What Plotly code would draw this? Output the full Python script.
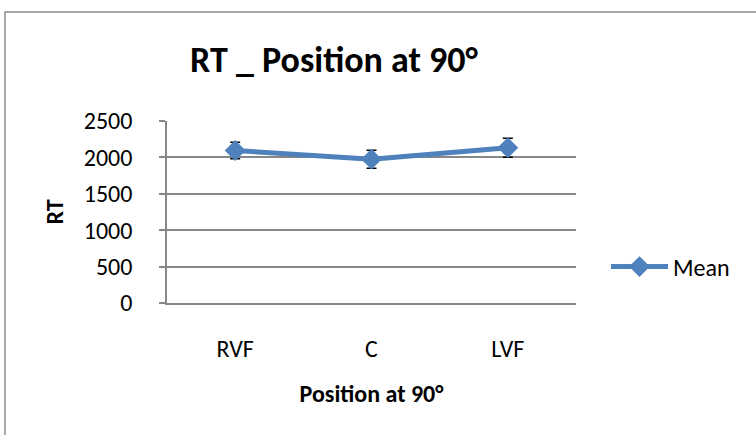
import plotly.graph_objects as go

categories = ["RVF", "C", "LVF"]
mean_rt = [2095, 1975, 2133]
err_rt = [112, 123, 130]
y_ticks = [0, 500, 1000, 1500, 2000, 2500]

W, H = 756, 435
L, R, T, B = 167, W - 576, 121, H - 303
pw, ph = W - L - R, H - T - B

def px(x):
    return (x - L) / pw

def py(y):
    return (H - B - y) / ph

FONT = "Carlito, Calibri, 'Open Sans', sans-serif"
GRID = "#878787"
BLUE = "#4F81BD"

fig = go.Figure()
fig.add_trace(go.Scatter(
    x=categories, y=mean_rt, name="Mean", mode="lines+markers",
    line=dict(color=BLUE, width=5),
    marker=dict(symbol="diamond", size=16, color=BLUE),
    error_y=dict(type="data", array=err_rt, visible=True,
                 color="black", thickness=1.5, width=5),
))

fig.update_layout(
    width=W, height=H,
    margin=dict(l=L, r=R, t=T, b=B),
    paper_bgcolor="white", plot_bgcolor="white",
    font=dict(family=FONT, size=24, color="black"),
    title=dict(text="<b>RT _ Position at 90°</b>", x=334 / W, xanchor="center",
               y=1 - 59 / H, yanchor="middle", xref="container", yref="container",
               font=dict(size=36, family=FONT)),
    showlegend=True,
    legend=dict(x=px(606), y=py(267), xanchor="left", yanchor="middle",
                font=dict(size=24), itemwidth=57, bgcolor="rgba(0,0,0,0)"),
    xaxis=dict(type="category", range=[-0.5, 2.5], showgrid=False,
               showline=True, linecolor=GRID, linewidth=1.5,
               ticks="", ticklabelstandoff=23,
               tickfont=dict(size=24),
               title=dict(text="<b>Position at 90°</b>", font=dict(size=24), standoff=24)),
    yaxis=dict(range=[0, 2500], tickvals=y_ticks, showgrid=True,
               gridcolor=GRID, gridwidth=1.5,
               showline=True, linecolor=GRID, linewidth=1.5,
               ticks="outside", ticklen=6, tickcolor=GRID, tickwidth=1.5,
               ticklabelstandoff=22, tickfont=dict(size=24),
               zeroline=False,
               title=dict(text="<b>RT</b>", font=dict(size=24), standoff=13)),
    shapes=[dict(type="rect", xref="paper", yref="paper",
                 x0=px(5), x1=px(770), y0=py(450), y1=py(12),
                 line=dict(color="#8c8c8c", width=1.5), fillcolor="rgba(0,0,0,0)",
                 layer="below")],
)

fig.write_html("out.html", config={"displayModeBar": False},
               post_script="document.body.style.margin='0';")
